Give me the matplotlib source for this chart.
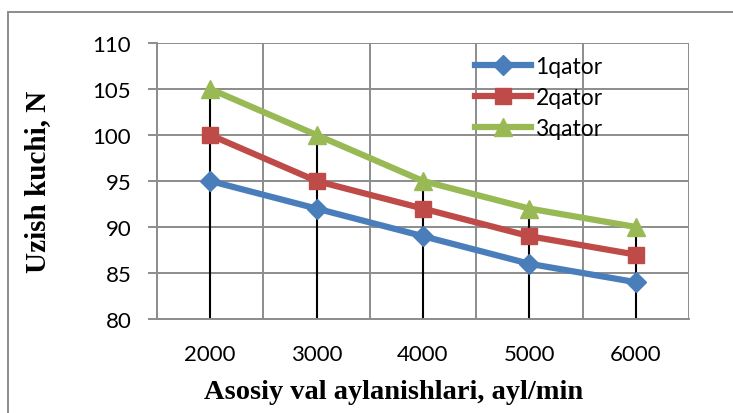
import matplotlib as mpl
from matplotlib import pyplot as plt
from matplotlib.patches import Rectangle
import numpy as np

mpl.rcParams["font.family"] = ["Lato", "DejaVu Sans"]

# data
rpm = ['2000', '3000', '4000', '5000', '6000']
qator1 = [95, 92, 89, 86, 84]
qator2 = [100, 95, 92, 89, 87]
qator3 = [105, 100, 95, 92, 90]
series_names = ['1qator', '2qator', '3qator']

fig = plt.figure(figsize=(7.33, 4.14), dpi=100)
ax = fig.add_axes([0.2142, 0.2271, 0.7258, 0.6666])

x = np.arange(1, len(rpm) + 1)
grid_c = '#8c8c8c'

# gridlines
for yv in range(80, 111, 5):
    ax.axhline(yv, color=grid_c, lw=1.4, zorder=0)
for xv in np.arange(0.5, len(rpm) + 1, 1.0):
    ax.axvline(xv, color=grid_c, lw=1.4, zorder=0)

# drop lines
top = np.max([qator1, qator2, qator3], axis=0)
ax.vlines(x, 80, top, color='black', lw=1.5, zorder=1)

ax.plot(x, qator1, color='#4a7ebb', lw=4.5, marker='D', ms=10,
        label=series_names[0], zorder=3)
ax.plot(x, qator2, color='#be4b48', lw=4.5, marker='s', ms=12,
        label=series_names[1], zorder=3)
ax.plot(x, qator3, color='#98b954', lw=4.5, marker='^', ms=13,
        label=series_names[2], zorder=3)

ax.set_xlim(0.5, len(rpm) + 0.5)
ax.set_ylim(80, 110)
ax.set_xticks(x)
ax.set_xticklabels(rpm)
ax.set_yticks(range(80, 111, 5))
ax.tick_params(axis='x', length=0, pad=18, labelsize=16)
ax.tick_params(axis='y', length=6.5, width=1.4, color=grid_c, pad=12, labelsize=16)
for s in ['top', 'right']:
    ax.spines[s].set_visible(False)
for s in ['left', 'bottom']:
    ax.spines[s].set_color(grid_c)
    ax.spines[s].set_linewidth(1.4)

ax.set_ylabel('Uzish kuchi, N', family='Liberation Serif', fontweight='bold',
              fontsize=21, va='center')
ax.yaxis.set_label_coords(-0.224, 0.5)
ax.set_xlabel('Asosiy val aylanishlari, ayl/min', family='Liberation Serif',
              fontweight='bold', fontsize=20.5, va='center')
ax.xaxis.set_label_coords(0.444, -0.261)

leg = ax.legend(loc='upper left', bbox_to_anchor=(0.58, 0.985), frameon=False,
                fontsize=16.5, handlelength=2.45, handletextpad=0.2,
                labelspacing=0.42, borderaxespad=0)

# outer frame
fig.patches.append(Rectangle((8 / 733, -0.1), 1.0, 1 - 13 / 414 + 0.1,
                             transform=fig.transFigure, fill=False,
                             ec='#8c8c8c', lw=1.4))

fig.savefig('out.png', dpi=100)
